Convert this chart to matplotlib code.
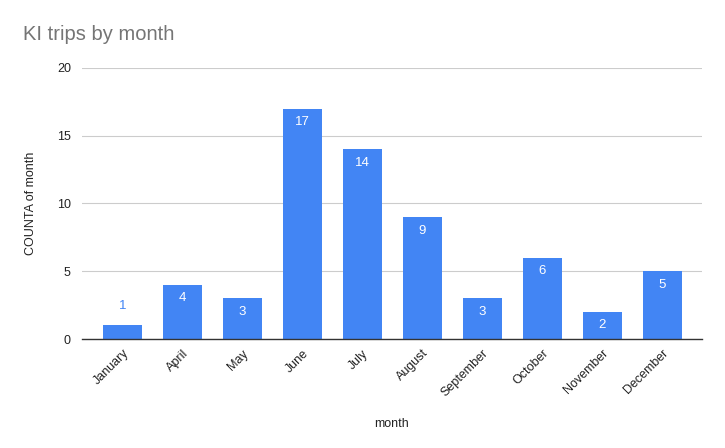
import matplotlib
matplotlib.use("Agg")
import matplotlib.pyplot as plt

months = ["January", "April", "May", "June", "July", "August", "September", "October", "November", "December"]
counts = [1, 4, 3, 17, 14, 9, 3, 6, 2, 5]
yticks = [0, 5, 10, 15, 20]

plt.rcParams['font.family'] = ['Liberation Sans', 'DejaVu Sans']

fig = plt.figure(figsize=(7.25, 4.48), dpi=100)
ax = fig.add_axes([82/725, 1-339/448, 620/725, (339-68)/448])

blue = "#4285F4"
x = list(range(len(months)))
bars = ax.bar(x, counts, width=0.65, color=blue, zorder=3)

ax.set_xlim(-0.675, 9.66)
ax.set_ylim(0, 20)
ax.set_yticks(yticks)
ax.grid(axis='y', color='#cccccc', linewidth=0.8, zorder=0)
for s in ['top', 'right', 'left']:
    ax.spines[s].set_visible(False)
ax.spines['bottom'].set_color('#333333')
ax.spines['bottom'].set_linewidth(1.0)
ax.spines['bottom'].set_zorder(4)
ax.tick_params(axis='both', length=0, labelsize=9, colors='#222222', pad=8)
ax.set_xticks(x)
ax.set_xticklabels(months, rotation=45, ha='right', rotation_mode='anchor')
ax.tick_params(axis='x', pad=6)

for xi, c in zip(x, counts):
    if c >= 2:
        ax.text(xi, c - 0.55, str(c), ha='center', va='top', color='white', fontsize=9.5, zorder=5)
    else:
        ax.text(xi, c + 1.0, str(c), ha='center', va='bottom', color=blue, fontsize=9.5, zorder=5)

ax.set_xlabel("month", fontsize=9, color='#222222', labelpad=14)
ax.set_ylabel("COUNTA of month", fontsize=9, color='#222222', labelpad=14)

fig.text(23/725, 1-35/448, "KI trips by month", fontsize=14.5, color='#757575', va='center', ha='left')

fig.savefig("out.png", dpi=100)
